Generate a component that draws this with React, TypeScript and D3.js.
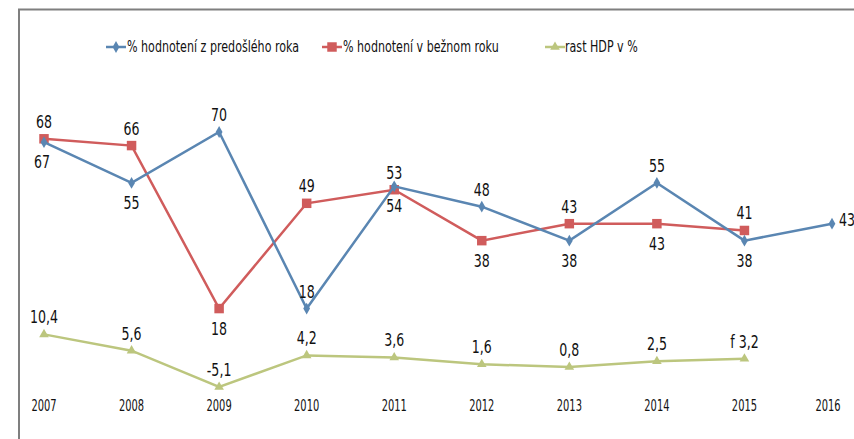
import React from "react";
import * as d3 from "d3";

const years = ["2007", "2008", "2009", "2010", "2011", "2012", "2013", "2014", "2015", "2016"];
const prevYear = [67, 55, 70, 18, 54, 48, 38, 55, 38, 43];
const currYear = [68, 66, 18, 49, 53, 38, 43, 43, 41];
const gdp = [10.4, 5.6, -5.1, 4.2, 3.6, 1.6, 0.8, 2.5, 3.2];
const gdpLabels = ["10,4", "5,6", "-5,1", "4,2", "3,6", "1,6", "0,8", "2,5", "f 3,2"];
const prevPos = ["below", "below", "above", "above", "below", "above", "below", "above", "below", "right"];
const currPos = ["above", "above", "below", "above", "above", "below", "above", "below", "above"];
const legendNames = ["% hodnotení z predošlého roka", "% hodnotení v bežnom roku", "rast HDP v %"];

const W = 854;
const H = 439;
const BLUE = "#5a86b2";
const RED = "#d05c5c";
const GREEN = "#bcc67e";
const FONT = "'DejaVu Sans', sans-serif";

function NText(props: {
  x: number;
  y: number;
  size: number;
  sx: number;
  anchor?: string;
  children: React.ReactNode;
}) {
  return (
    <text
      transform={`translate(${props.x},${props.y}) scale(${props.sx},1)`}
      fontSize={props.size}
      textAnchor={props.anchor || "middle"}
      fill="#111"
    >
      {props.children}
    </text>
  );
}

export default function App() {
  const x = d3.scalePoint<string>().domain(years).range([44, 832]);
  const y = d3.scaleLinear().domain([70, -5.1]).range([132, 387]);

  const line = d3
    .line<number>()
    .x((_, i) => x(years[i]) as number)
    .y((d) => y(d));

  const labelY = (v: number, pos: string) =>
    pos === "above" ? y(v) - 11 : pos === "below" ? y(v) + 26 : y(v) + 2;

  const diamond = d3.symbol().type(d3.symbolDiamond).size(40)() as string;
  const square = d3.symbol().type(d3.symbolSquare).size(90)() as string;
  const triangle = d3.symbol().type(d3.symbolTriangle).size(40)() as string;

  const legendItems = [
    { name: legendNames[0], color: BLUE, sym: diamond, lx: 106, tx: 127 },
    { name: legendNames[1], color: RED, sym: square, lx: 322, tx: 343 },
    { name: legendNames[2], color: GREEN, sym: triangle, lx: 545, tx: 565 },
  ];

  return (
    <svg
      width={W}
      height={H}
      style={{ position: "absolute", left: 0, top: 0, background: "#fff" }}
      fontFamily={FONT}
    >
      <path d={`M19,${H} L19,9.5 L${W},9.5`} fill="none" stroke="#7f7f7f" strokeWidth={2} />

      {/* legend */}
      {legendItems.map((it, i) => (
        <g key={i}>
          <line x1={it.lx} x2={it.lx + 20} y1={47} y2={47} stroke={it.color} strokeWidth={2.5} />
          <path d={it.sym} transform={`translate(${it.lx + 10},47)`} fill={it.color} />
          <NText x={it.tx} y={52} size={15} sx={0.74} anchor="start">
            {it.name}
          </NText>
        </g>
      ))}

      {/* GDP series */}
      <path d={line(gdp) as string} fill="none" stroke={GREEN} strokeWidth={2.5} />
      {gdp.map((v, i) => (
        <path key={"gm" + i} d={triangle} transform={`translate(${x(years[i])},${y(v)})`} fill={GREEN} />
      ))}

      {/* current year series */}
      <path d={line(currYear) as string} fill="none" stroke={RED} strokeWidth={2.5} />
      {currYear.map((v, i) => (
        <path key={"rm" + i} d={square} transform={`translate(${x(years[i])},${y(v)})`} fill={RED} />
      ))}

      {/* previous year series */}
      <path d={line(prevYear) as string} fill="none" stroke={BLUE} strokeWidth={2.5} />
      {prevYear.map((v, i) => (
        <path key={"bm" + i} d={diamond} transform={`translate(${x(years[i])},${y(v)})`} fill={BLUE} />
      ))}

      {/* data labels */}
      {prevYear.map((v, i) => (
        <NText
          key={"bl" + i}
          x={(x(years[i]) as number) + (prevPos[i] === "right" ? 7 : i === 0 ? -2 : 0)}
          y={labelY(v, prevPos[i])}
          size={17.5}
          sx={0.72}
          anchor={prevPos[i] === "right" ? "start" : "middle"}
        >
          {v}
        </NText>
      ))}
      {currYear.map((v, i) => (
        <NText key={"rl" + i} x={x(years[i]) as number} y={labelY(v, currPos[i])} size={17.5} sx={0.72}>
          {v}
        </NText>
      ))}
      {gdp.map((v, i) => (
        <NText key={"gl" + i} x={x(years[i]) as number} y={y(v) - 11} size={17.5} sx={0.72}>
          {gdpLabels[i]}
        </NText>
      ))}

      {/* x axis labels */}
      {years.map((yr, i) => (
        <NText key={yr} x={(x(yr) as number) - (i === 9 ? 4 : 0)} y={411} size={16.5} sx={0.6}>
          {yr}
        </NText>
      ))}
    </svg>
  );
}
